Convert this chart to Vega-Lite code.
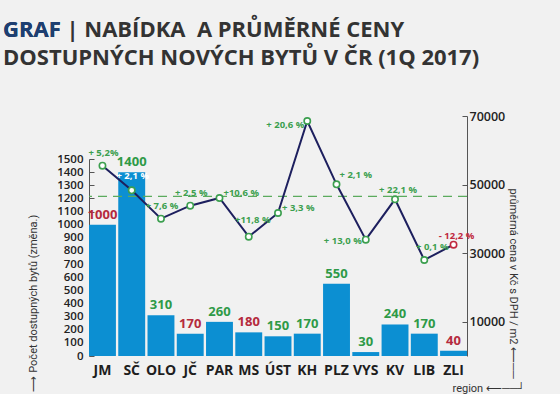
{
  "$schema": "https://vega.github.io/schema/vega-lite/v6.json",
  "width": 378,
  "height": 240,
  "autosize": {"type": "none"},
  "padding": {"left": 89, "top": 116, "right": 93, "bottom": 38},
  "background": "#f1f1f1",
  "config": {"view": {"stroke": null}, "font": "Open Sans", "axisY": {"labelOverlap": false}},
  "title": {
    "text": ["GRAF | NABÍDKA\u00a0 A PRŮMĚRNÉ CENY", "DOSTUPNÝCH NOVÝCH BYTŮ V ČR (1Q 2017)"],
    "subtitle": "GRAF",
    "anchor": "start",
    "frame": "group",
    "dx": -86,
    "offset": 40,
    "font": "Open Sans",
    "fontSize": 22,
    "fontWeight": "bold",
    "color": "#333333",
    "lineHeight": 28,
    "subtitleFont": "Open Sans",
    "subtitleFontSize": 22,
    "subtitleFontWeight": "bold",
    "subtitleColor": "#1d3f73",
    "subtitleLineHeight": 28,
    "subtitlePadding": -50
  },
  "data": {
    "values": [
      {"region": "JM", "nabidka": 1000, "nabidka_smer": "pokles", "cena": 55500, "zmena": 5.2, "zmena_text": "+ 5,2%"},
      {"region": "SČ", "nabidka": 1400, "nabidka_smer": "růst", "cena": 48330, "zmena": 2.1, "zmena_text": "+ 2,1 %"},
      {"region": "OLO", "nabidka": 310, "nabidka_smer": "růst", "cena": 40050, "zmena": 7.6, "zmena_text": "+ 7,6 %"},
      {"region": "JČ", "nabidka": 170, "nabidka_smer": "pokles", "cena": 43840, "zmena": 2.5, "zmena_text": "+ 2,5 %"},
      {"region": "PAR", "nabidka": 260, "nabidka_smer": "růst", "cena": 46080, "zmena": 10.6, "zmena_text": "+10,6 %"},
      {"region": "MS", "nabidka": 180, "nabidka_smer": "pokles", "cena": 34800, "zmena": 11.8, "zmena_text": "+11,8 %"},
      {"region": "ÚST", "nabidka": 150, "nabidka_smer": "růst", "cena": 41710, "zmena": 3.3, "zmena_text": "+ 3,3 %"},
      {"region": "KH", "nabidka": 170, "nabidka_smer": "růst", "cena": 68540, "zmena": 20.6, "zmena_text": "+ 20,6 %"},
      {"region": "PLZ", "nabidka": 550, "nabidka_smer": "růst", "cena": 50070, "zmena": 2.1, "zmena_text": "+ 2,1 %"},
      {"region": "VYS", "nabidka": 30, "nabidka_smer": "růst", "cena": 33930, "zmena": 13.0, "zmena_text": "+ 13,0 %"},
      {"region": "KV", "nabidka": 240, "nabidka_smer": "růst", "cena": 45700, "zmena": 22.1, "zmena_text": "+ 22,1 %"},
      {"region": "LIB", "nabidka": 170, "nabidka_smer": "růst", "cena": 28000, "zmena": 0.1, "zmena_text": "+ 0,1 %"},
      {"region": "ZLI", "nabidka": 40, "nabidka_smer": "pokles", "cena": 32470, "zmena": -12.2, "zmena_text": "- 12,2 %"}
    ]
  },
  "layer": [
    {
      "layer": [
        {
          "mark": {"type": "bar", "color": "#0c8fd2"},
          "encoding": {
            "x": {
              "field": "region", "type": "nominal",
              "scale": {"domain": ["JM", "SČ", "OLO", "JČ", "PAR", "MS", "ÚST", "KH", "PLZ", "VYS", "KV", "LIB", "ZLI"], "paddingInner": 0.08, "paddingOuter": 0},
              "axis": {
                "labelAngle": 0, "labelFontSize": 14, "labelFontWeight": "bold", "labelColor": "#1e1e1e",
                "labelPadding": 7, "ticks": false, "domain": false,
                "title": "region ⟵──┘", "titleX": 363, "titleY": 32, "titleAlign": "left", "titleBaseline": "middle",
                "titleFont": "Roboto", "titleFontSize": 11, "titleFontWeight": "normal", "titleColor": "#333333"
              }
            },
            "y": {
              "field": "nabidka", "type": "quantitative",
              "scale": {"domain": [0, 1500], "range": [240, 43], "nice": false},
              "axis": {
                "orient": "left", "values": [0, 100, 200, 300, 400, 500, 600, 700, 800, 900, 1000, 1100, 1200, 1300, 1400, 1500],
                "format": "d", "labelOverlap": false, "labelSeparation": 0,
                "grid": false, "tickSize": -5, "labelPadding": 11, "labelFontSize": 11.5, "labelFontWeight": 600,
                "labelColor": "#222222", "domainColor": "#555555", "tickColor": "#555555",
                "title": "⟶ Počet dostupných bytů (změna.)", "titleAngle": -90, "titleX": -56, "titleY": 275,
                "titleAlign": "left", "titleBaseline": "middle", "titleFont": "Roboto", "titleFontSize": 11, "titleFontWeight": "normal", "titleColor": "#333333"
              }
            }
          }
        },
        {
          "mark": {"type": "text", "baseline": "bottom", "dy": -3, "fontSize": 13, "fontWeight": "bold"},
          "encoding": {
            "x": {"field": "region", "type": "nominal"},
            "y": {"field": "nabidka", "type": "quantitative", "axis": {"labelOverlap": false, "values": [0, 100, 200, 300, 400, 500, 600, 700, 800, 900, 1000, 1100, 1200, 1300, 1400, 1500]}},
            "text": {"field": "nabidka", "type": "quantitative"},
            "color": {"condition": {"test": "datum.nabidka_smer === 'pokles'", "value": "#b52a3d"}, "value": "#2e9a47"}
          }
        }
      ]
    },
    {
      "layer": [
        {
          "data": {"values": [{"cena": 46580}]},
          "mark": {"type": "rule", "color": "#5bab5e", "strokeDash": [9, 6], "strokeWidth": 1.2},
          "encoding": {"y": {"field": "cena", "type": "quantitative"}}
        },
        {
          "mark": {"type": "line", "color": "#1d1f5e", "strokeWidth": 2},
          "encoding": {
            "x": {"field": "region", "type": "nominal"},
            "y": {
              "field": "cena", "type": "quantitative",
              "scale": {"domain": [0, 70000], "nice": false},
              "axis": {
                "orient": "right", "values": [10000, 20000, 30000, 40000, 50000, 60000, 70000], "format": "d",
                "grid": false, "tickSize": -5, "labelPadding": 7, "labelFontSize": 12.5, "labelFontWeight": 600,
                "labelColor": "#222222", "domainColor": "#555555", "tickColor": "#555555",
                "title": "průměrná cena v Kč s DPH / m2 ⟵──", "titleAngle": 90, "titleX": 45, "titleY": 72,
                "titleAlign": "left", "titleBaseline": "middle", "titleFont": "Roboto", "titleFontSize": 11, "titleFontWeight": "normal", "titleColor": "#333333"
              }
            }
          }
        },
        {
          "mark": {"type": "point", "shape": "circle", "filled": true, "fill": "#ffffff", "strokeWidth": 1.6, "size": 40, "opacity": 1},
          "encoding": {
            "x": {"field": "region", "type": "nominal"},
            "y": {"field": "cena", "type": "quantitative"},
            "stroke": {"condition": {"test": "datum.zmena < 0", "value": "#c0283e"}, "value": "#3c9f4f"}
          }
        },
        {
          "transform": [{"filter": {"field": "region", "oneOf": ["JM", "JČ", "OLO"]}}],
          "mark": {"type": "text", "align": "center", "dx": 1, "dy": -13, "fontSize": 9.5, "fontWeight": "bold"},
          "encoding": {
            "x": {"field": "region", "type": "nominal"}, "y": {"field": "cena", "type": "quantitative"},
            "text": {"field": "zmena_text"},
            "color": {"condition": {"test": "datum.zmena < 0", "value": "#c0283e"}, "value": "#3c9f4f"}
          }
        },
        {
          "transform": [{"filter": {"field": "region", "oneOf": ["MS"]}}],
          "mark": {"type": "text", "align": "center", "dx": 4, "dy": -17, "fontSize": 9.5, "fontWeight": "bold"},
          "encoding": {
            "x": {"field": "region", "type": "nominal"}, "y": {"field": "cena", "type": "quantitative"},
            "text": {"field": "zmena_text"},
            "color": {"condition": {"test": "datum.zmena < 0", "value": "#c0283e"}, "value": "#3c9f4f"}
          }
        },
        {
          "transform": [{"filter": {"field": "region", "oneOf": ["KV", "ZLI"]}}],
          "mark": {"type": "text", "align": "center", "dx": 3, "dy": -9, "fontSize": 9.5, "fontWeight": "bold"},
          "encoding": {
            "x": {"field": "region", "type": "nominal"}, "y": {"field": "cena", "type": "quantitative"},
            "text": {"field": "zmena_text"},
            "color": {"condition": {"test": "datum.zmena < 0", "value": "#c0283e"}, "value": "#3c9f4f"}
          }
        },
        {
          "transform": [{"filter": {"field": "region", "oneOf": ["LIB"]}}],
          "mark": {"type": "text", "align": "center", "dx": 8, "dy": -13, "fontSize": 9.5, "fontWeight": "bold"},
          "encoding": {
            "x": {"field": "region", "type": "nominal"}, "y": {"field": "cena", "type": "quantitative"},
            "text": {"field": "zmena_text"},
            "color": {"condition": {"test": "datum.zmena < 0", "value": "#c0283e"}, "value": "#3c9f4f"}
          }
        },
        {
          "transform": [{"filter": {"field": "region", "oneOf": ["SČ"]}}],
          "mark": {"type": "text", "align": "center", "dx": 1, "dy": -14, "fontSize": 9.5, "fontWeight": "bold", "color": "#ffffff"},
          "encoding": {
            "x": {"field": "region", "type": "nominal"}, "y": {"field": "cena", "type": "quantitative"},
            "text": {"field": "zmena_text"}
          }
        },
        {
          "transform": [{"filter": {"field": "region", "oneOf": ["PAR", "ÚST"]}}],
          "mark": {"type": "text", "align": "left", "dx": 4, "dy": -5, "fontSize": 9.5, "fontWeight": "bold"},
          "encoding": {
            "x": {"field": "region", "type": "nominal"}, "y": {"field": "cena", "type": "quantitative"},
            "text": {"field": "zmena_text"},
            "color": {"condition": {"test": "datum.zmena < 0", "value": "#c0283e"}, "value": "#3c9f4f"}
          }
        },
        {
          "transform": [{"filter": {"field": "region", "oneOf": ["PLZ"]}}],
          "mark": {"type": "text", "align": "left", "dx": 3, "dy": -9, "fontSize": 9.5, "fontWeight": "bold"},
          "encoding": {
            "x": {"field": "region", "type": "nominal"}, "y": {"field": "cena", "type": "quantitative"},
            "text": {"field": "zmena_text"},
            "color": {"condition": {"test": "datum.zmena < 0", "value": "#c0283e"}, "value": "#3c9f4f"}
          }
        },
        {
          "transform": [{"filter": {"field": "region", "oneOf": ["KH"]}}],
          "mark": {"type": "text", "align": "right", "dx": -3, "dy": 4, "fontSize": 9.5, "fontWeight": "bold"},
          "encoding": {
            "x": {"field": "region", "type": "nominal"}, "y": {"field": "cena", "type": "quantitative"},
            "text": {"field": "zmena_text"},
            "color": {"condition": {"test": "datum.zmena < 0", "value": "#c0283e"}, "value": "#3c9f4f"}
          }
        },
        {
          "transform": [{"filter": {"field": "region", "oneOf": ["VYS"]}}],
          "mark": {"type": "text", "align": "right", "dx": -4, "dy": 1, "fontSize": 9.5, "fontWeight": "bold"},
          "encoding": {
            "x": {"field": "region", "type": "nominal"}, "y": {"field": "cena", "type": "quantitative"},
            "text": {"field": "zmena_text"},
            "color": {"condition": {"test": "datum.zmena < 0", "value": "#c0283e"}, "value": "#3c9f4f"}
          }
        }
      ]
    }
  ],
  "resolve": {"scale": {"y": "independent"}}
}
